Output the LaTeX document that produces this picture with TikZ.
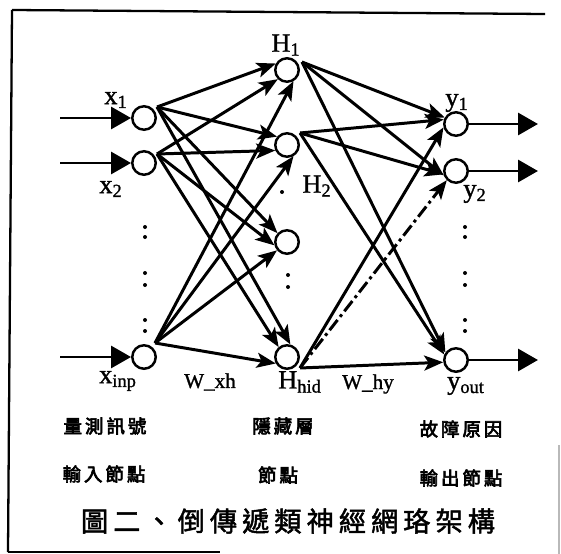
\documentclass[tikz,border=0pt]{standalone}
\usepackage{fontspec}
\setmainfont{Liberation Serif}
\newfontfamily\latb[FakeBold=1.2]{Liberation Serif}
\newfontfamily\cjkb[FakeBold=3.5]{Noto Sans CJK TC}
\newfontfamily\cjkt[FakeBold=1.8]{Noto Sans CJK TC}
\usetikzlibrary{arrows.meta,calc}
\newcommand\sk{\hspace{0.06cm}}
\newcommand\tk{\hspace{0.1cm}}
\begin{document}
\begin{tikzpicture}[x=0.02cm,y=-0.02cm,
  neuron/.style={circle, draw, line width=1.4pt, minimum size=0.47cm, inner sep=0pt},
  conn/.style={line width=1.7pt, -{Stealth[length=0.38cm,width=0.3cm,inset=0.09cm]}},
  dconn/.style={conn, dash pattern=on 0.26cm off 0.08cm on 0.06cm off 0.08cm},
  io/.style={line width=1.7pt, -{Triangle[length=0.4cm,width=0.44cm]}},
  lbl/.style={inner sep=0pt, font=\latb\fontsize{15}{17}\selectfont},
  wlbl/.style={inner sep=0pt, font=\latb\fontsize{12}{14}\selectfont},
  zh/.style={inner sep=0pt, font=\cjkb\fontsize{10.5}{12}\selectfont},
  ttl/.style={inner sep=0pt, font=\cjkt\fontsize{15.5}{18}\selectfont},
  dotm/.style={circle, fill, inner sep=0pt, minimum size=0.08cm},
  frame/.style={line width=1.3pt}]
\useasboundingbox (0,0) rectangle (561,554);

% frame
\draw[frame] (12,10) -- (545,14);
\draw[frame] (12,10) -- (8,552);
\draw[frame] (8,552) -- (220,552);
\draw[gray!55, line width=0.6pt] (559,445) -- (559,554);

% neurons
\node[neuron] (x1) at (144,118) {};
\node[neuron] (x2) at (144,163) {};
\node[neuron] (xi) at (144,357) {};
\node[neuron] (H1) at (287,70) {};
\node[neuron] (H2) at (287,145) {};
\node[neuron] (H3) at (287,242) {};
\node[neuron] (Hh) at (287,357) {};
\node[neuron] (y1) at (456,124) {};
\node[neuron] (y2) at (456,171) {};
\node[neuron] (yo) at (456,360) {};

% start points
\coordinate (x1o) at ($(x1)+(13,-11)$);
\coordinate (x2o) at ($(x2)+(13,-9)$);
\coordinate (xio) at ($(xi)+(11,-14)$);
\coordinate (H1o) at ($(H1)+(15,-8)$);
\coordinate (H2o) at ($(H2)+(13,-12)$);
\coordinate (Hho) at ($(Hh)+(13,11)$);

% input and output arrows
\coordinate (in1) at (60,118);
\coordinate (in2) at (60,163);
\coordinate (ini) at (60,357);
\coordinate (out1) at (538,124);
\coordinate (out2) at (538,171);
\coordinate (outo) at (538,360);
\draw[io] (in1) -- (x1);
\draw[io] (in2) -- (x2);
\draw[io] (ini) -- (xi);
\draw[io] (y1) -- (out1);
\draw[io] (y2) -- (out2);
\draw[io] (yo) -- (outo);

% input -> hidden
\draw[conn] (x1o) -- (H1.150);
\draw[conn] (x2o) -- (H1.225);
\draw[conn] (xio) -- (H1.300);
\draw[conn] (x1o) -- (H2.140);
\draw[conn] (x2o) -- (H2.205);
\draw[conn] (xio) -- (H2.300);
\draw[conn] (x1o) -- (H3.137);
\draw[conn] (x2o) -- (H3.195);
\draw[conn] (xio) -- (H3.220);
\draw[conn] (x1o) -- (Hh.75);
\draw[conn] (x2o) -- (Hh.130);
\draw[conn] (xio) -- (Hh.210);

% hidden -> output
\draw[conn] (H1o) -- (y1.150);
\draw[conn] (H2o) -- (y1.160);
\draw[conn] (Hho) -- (y1.195);
\draw[conn] (H1o) -- (y2.200);
\draw[conn] (H2o) -- (y2.195);
\draw[dconn] (Hho) -- (y2.225);
\draw[conn] (H1o) -- (yo.145);
\draw[conn] (H2o) -- (yo.155);
\draw[conn] (Hho) -- (yo.190);

% dots
\foreach \yy [count=\i] in {227,237,273,285,320,331} {
  \node[dotm] (di\i) at (145,\yy) {};
  \node[dotm] (do\i) at (465,\yy) {};
}
\node[dotm] (dh0) at (282,192) {};
\node[dotm] (dh1) at (288,275) {};
\node[dotm] (dh2) at (288,287) {};

% labels
\node[lbl] (lx1) at (116,100) {x\textsubscript{1}};
\node[lbl] (lx2) at (111,189) {x\textsubscript{2}};
\node[lbl] (lxi) at (118,381) {x\textsubscript{inp}};
\node[lbl] (lH1) at (286,45) {H\textsubscript{1}};
\node[lbl] (lH2) at (317,186) {H\textsubscript{2}};
\node[lbl] (lHh) at (300,382) {H\textsubscript{hid}};
\node[lbl] (ly1) at (457,103) {y\textsubscript{1}};
\node[lbl] (ly2) at (475,194) {y\textsubscript{2}};
\node[lbl] (lyo) at (466,386) {y\textsubscript{out}};
\node[wlbl] (wxh) at (210,382) {W\_xh};
\node[wlbl] (why) at (368,384) {W\_hy};

% chinese labels
\node[zh] (c1) at (105,426) {量\sk 測\sk 訊\sk 號};
\node[zh] (c2) at (104,474) {輸\sk 入\sk 節\sk 點};
\node[zh] (c3) at (283,426) {隱\sk 藏\sk 層};
\node[zh] (c4) at (278,475) {節\sk 點};
\node[zh] (c5) at (461,429) {故\sk 障\sk 原\sk 因};
\node[zh] (c6) at (461,478) {輸\sk 出\sk 節\sk 點};
\node[ttl] (title) at (288,521) {圖\tk 二\tk 、\tk 倒\tk 傳\tk 遞\tk 類\tk 神\tk 經\tk 網\tk 珞\tk 架\tk 構};
\end{tikzpicture}
\end{document}
